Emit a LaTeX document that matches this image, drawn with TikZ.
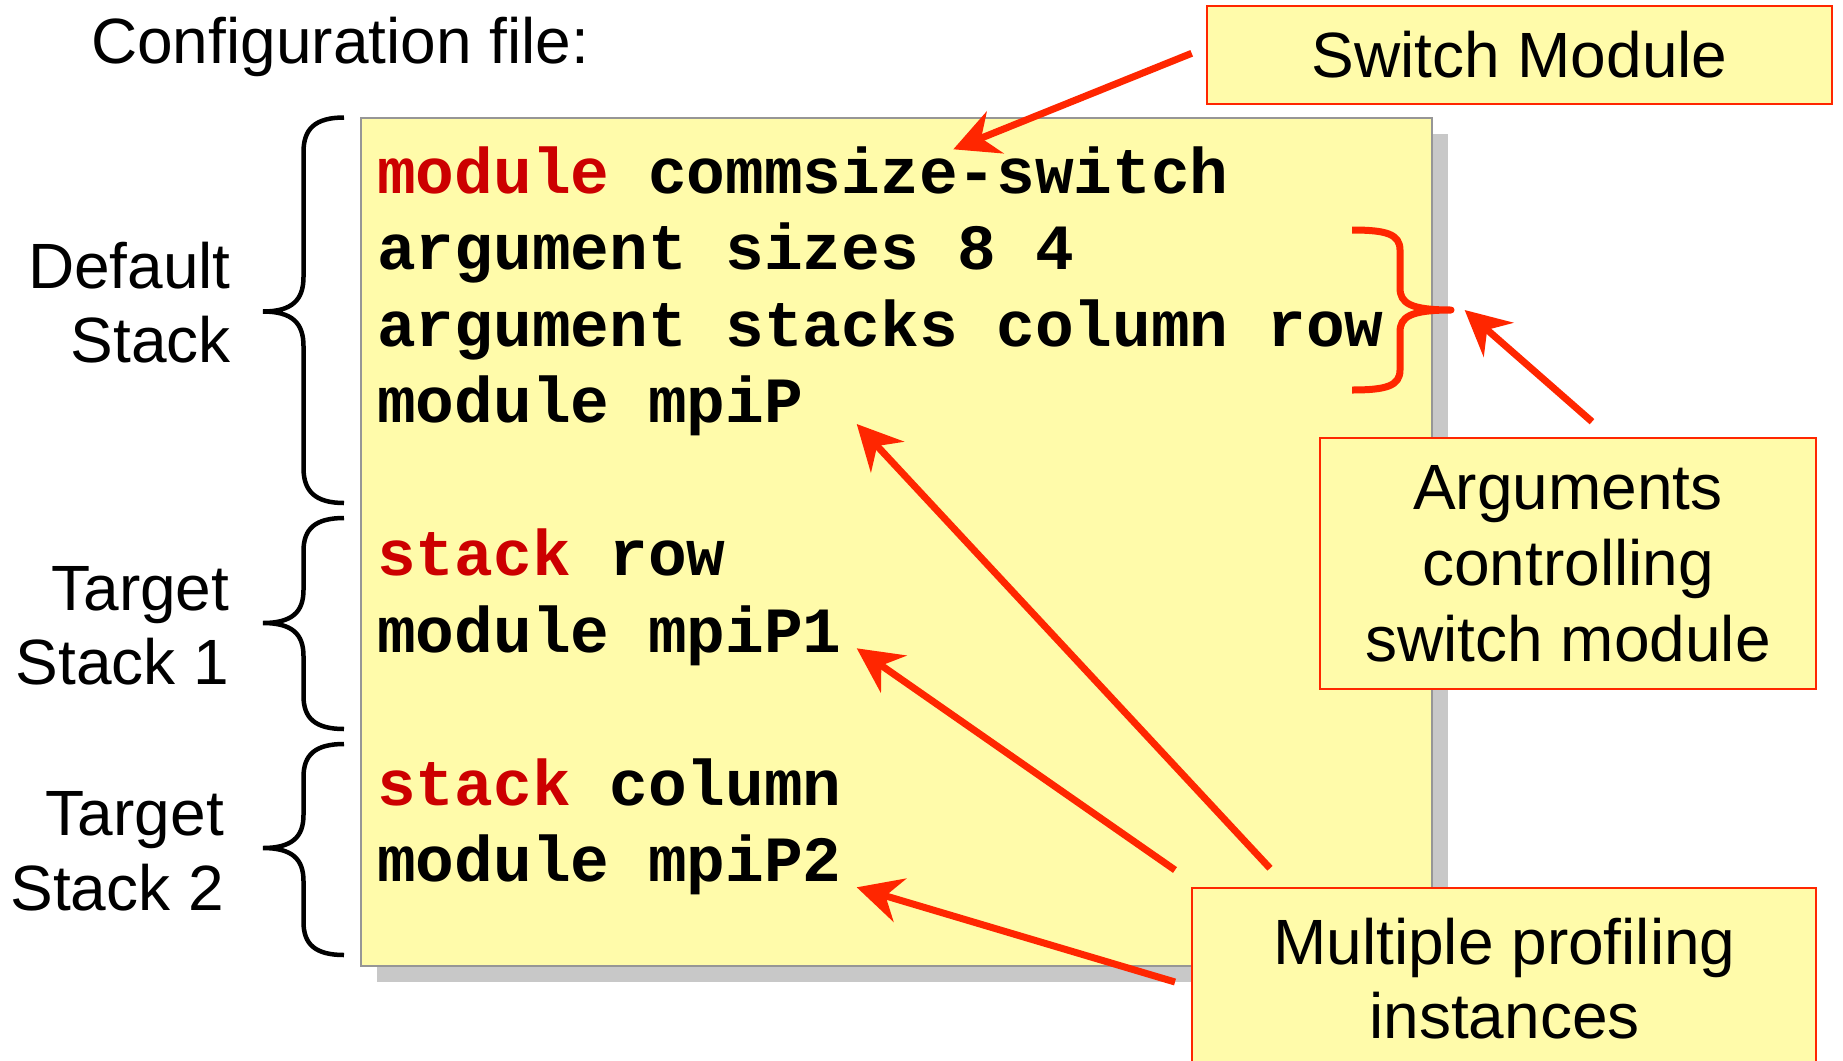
\documentclass[tikz,border=0pt]{standalone}
\usepackage{fontspec}
\setmainfont{Liberation Sans}
\newfontfamily\codefont{Liberation Mono}
\usetikzlibrary{arrows.meta}
\definecolor{notey}{RGB}{255,251,170}
\definecolor{arrred}{RGB}{255,38,0}
\definecolor{kwred}{RGB}{204,0,0}
\definecolor{shadowgray}{RGB}{200,200,200}
\definecolor{boxgray}{RGB}{150,150,150}
\newcommand{\kw}[1]{\textcolor{kwred}{#1}}
\begin{document}
\begin{tikzpicture}[x=1pt,y=-1pt,
  lbl/.style={inner sep=0pt, font=\fontsize{64}{74.5}\selectfont},
  codeln/.style={inner sep=0pt, anchor=base west, font=\codefont\bfseries\fontsize{64.5}{76.5}\selectfont},
  notebox/.style={draw=arrred, line width=2pt, fill=notey, inner sep=0pt, align=center,
     font=\fontsize{64}{76}\selectfont},
  ptr/.style={draw=arrred, line width=7pt, -{Stealth[length=45pt,width=45pt,inset=15pt]}},
  blkbrace/.style={draw=black, line width=4.5pt},
  redbrace/.style={draw=arrred, line width=7pt, line join=round}]
\useasboundingbox (0,0) rectangle (1843,1060);

% code box with shadow
\node[fill=shadowgray, inner sep=0pt, minimum width=1071pt, minimum height=848pt] (codeshadow) at (912.5,558) {};
\node[fill=notey, draw=boxgray, line width=2pt, inner sep=0pt, minimum width=1071pt, minimum height=848pt] (codebox) at (896.5,542) {};

% code lines
\node[codeln] (c0) at (377,193) {\kw{module} commsize-switch};
\node[codeln] (c1) at (377,269.5) {argument sizes 8 4};
\node[codeln] (c2) at (377,346) {argument stacks column row};
\node[codeln] (c3) at (377,422.5) {module mpiP};
\node[codeln] (c5) at (377,575.5) {\kw{stack} row};
\node[codeln] (c6) at (377,652) {module mpiP1};
\node[codeln] (c8) at (377,805) {\kw{stack} column};
\node[codeln] (c9) at (377,881.5) {module mpiP2};

% title
\node[lbl, anchor=base west] (title) at (91,63) {Configuration file:};

% left labels
\node[lbl, anchor=north east, align=right] (deflbl) at (231,241.6) {Default\\Stack};
\node[lbl, anchor=north east, align=right] (t1lbl) at (229.5,566) {Target\\Stack 1};
\node[lbl, anchor=north east, align=right] (t2lbl) at (224,791.5) {Target\\Stack 2};

% black braces
\draw[blkbrace] (344,117.5) .. controls (315,117.5) and (303.5,129) .. (303.5,152)
  -- (303.5,277) .. controls (303.5,300) and (292,311.5) .. (263,311.5)
  .. controls (292,311.5) and (303.5,323) .. (303.5,346)
  -- (303.5,468) .. controls (303.5,491) and (315,503) .. (344,503);
\draw[blkbrace] (344,518) .. controls (315,518) and (303.5,529) .. (303.5,551)
  -- (303.5,590) .. controls (303.5,612) and (292,623) .. (263,623)
  .. controls (292,623) and (303.5,634) .. (303.5,656)
  -- (303.5,696) .. controls (303.5,718) and (315,729) .. (344,729);
\draw[blkbrace] (344,744) .. controls (315,744) and (303.5,755) .. (303.5,777)
  -- (303.5,815) .. controls (303.5,837) and (292,848) .. (263,848)
  .. controls (292,848) and (303.5,859) .. (303.5,881)
  -- (303.5,922) .. controls (303.5,944) and (315,955) .. (344,955);

% red brace
\draw[redbrace] (1352,230) .. controls (1386,230) and (1400,234) .. (1400,250)
  -- (1400,288) .. controls (1400,303) and (1410,310) .. (1451,310)
  .. controls (1410,310) and (1400,317) .. (1400,332)
  -- (1400,370) .. controls (1400,386) and (1386,390) .. (1352,390);

% callout boxes
\node[notebox, minimum width=625pt, minimum height=98pt] (swbox) at (1519.5,55) {Switch Module};
\node[notebox, minimum width=496pt, minimum height=251pt] (argbox) at (1568,563.5) {Arguments\\controlling\\switch module};
\node[draw=arrred, line width=2pt, fill=notey, inner sep=0pt, minimum width=624pt, minimum height=200pt] (mpbox) at (1504,987.5) {};
\node[inner sep=0pt, anchor=north, align=center, font=\fontsize{64}{74}\selectfont] (mptext) at (1504.5,918.3) {Multiple profiling\\instances};

% arrows
\coordinate (a1s) at (1191.7,53.3);
\coordinate (a1t) at (953.3,149.3);
\coordinate (a2s) at (1592,421.7);
\coordinate (a2t) at (1464.6,310);
\coordinate (a3s) at (1270,868.3);
\coordinate (a3t) at (856.7,424);
\coordinate (a4s) at (1175,870);
\coordinate (a4t) at (856.7,648.3);
\coordinate (a5s) at (1175,982);
\coordinate (a5t) at (856.7,887.3);
\draw[ptr] (a1s) -- (a1t);
\draw[ptr] (a2s) -- (a2t);
\draw[ptr] (a3s) -- (a3t);
\draw[ptr] (a4s) -- (a4t);
\draw[ptr] (a5s) -- (a5t);
\end{tikzpicture}
\end{document}
